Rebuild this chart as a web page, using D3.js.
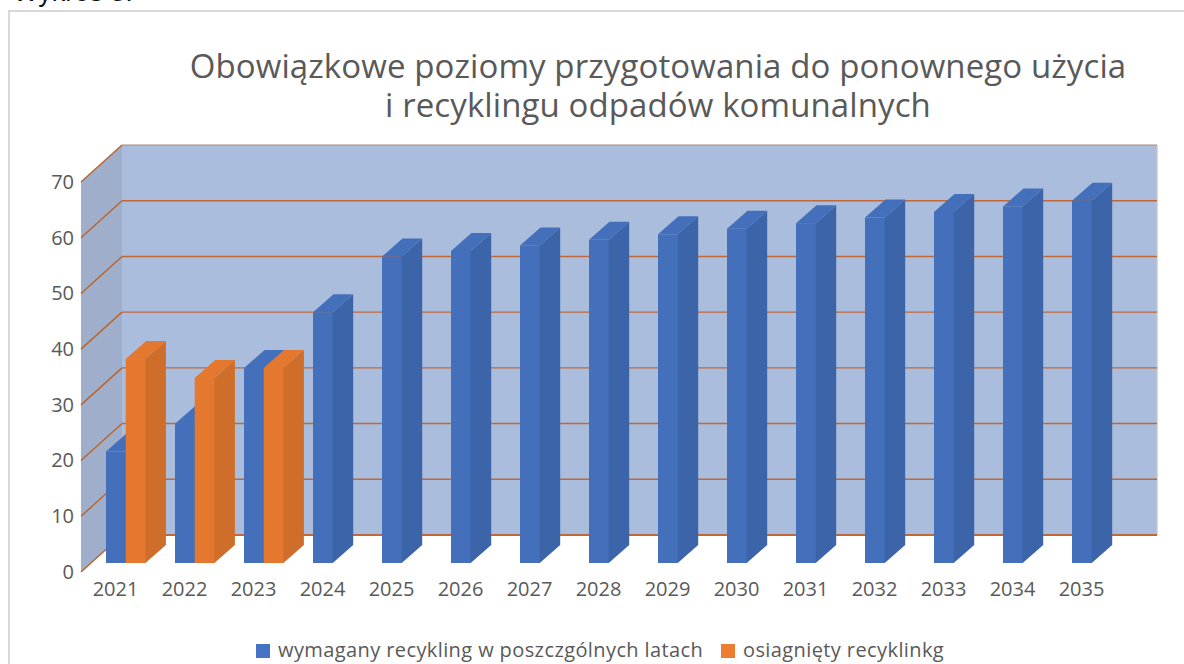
<!DOCTYPE html>
<html>
<head>
<meta charset="utf-8">
<script src="https://cdn.jsdelivr.net/npm/d3@7"></script>
<style>
    body { margin: 0; background: #fff; }
    svg { display: block; }
    text { font-family: "Open Sans", sans-serif; fill: #595959; }
</style>
</head>
<body>
<div id="chart"></div>
<script>
const years = ["2021","2022","2023","2024","2025","2026","2027","2028","2029","2030","2031","2032","2033","2034","2035"];
const required = [20,25,35,45,55,56,57,58,59,60,61,62,63,64,65];
const achieved = [36.6,33.2,35];
const seriesNames = ["wymagany recykling w poszczgólnych latach", "osiagnięty recyklinkg"];
const titleLines = ["Obowiązkowe poziomy przygotowania do ponownego użycia", "i recyklingu odpadów komunalnych"];
const yTicks = [0,10,20,30,40,50,60,70];

const width = 1184, height = 664;
const svg = d3.select("#chart").append("svg")
    .attr("width", width)
    .attr("height", height);

// outer chart frame, runs off the right and bottom of the picture
svg.append("rect")
    .attr("x", 9).attr("y", 11)
    .attr("width", 1200).attr("height", 670)
    .attr("fill", "#fff")
    .attr("stroke", "#d9d9d9")
    .attr("stroke-width", 2);

// caption above the frame, cut off by the top of the picture as in the original
svg.append("text")
    .attr("x", 13).attr("y", 1)
    .style("font-family", "Liberation Sans")
    .style("font-size", "27px")
    .style("fill", "#111")
    .text("Wykres 3.");

svg.selectAll(".title")
    .data(titleLines)
    .enter().append("text")
    .attr("class", "title")
    .attr("x", 658)
    .attr("y", (d, i) => 78 + i * 39)
    .attr("text-anchor", "middle")
    .style("font-size", "33px")
    .style("letter-spacing", "0.1px")
    .text(d => d);

// front plane of the 3d box
const y = d3.scaleLinear().domain([0, 70]).range([572, 182]);
const x = d3.scaleBand().domain(years).range([81, 81 + 69 * years.length]);
const xSeries = d3.scaleBand().domain(seriesNames).range([25, 64.4]);

const wallDx = 41, wallDy = -37;
const barDx = 20.5, barDy = -18;
const barBase = y(0) - 9;
const backRight = 1157;
const unit = y(0) - y(1);

// walls
const x0 = x.range()[0];
svg.append("rect")
    .attr("x", x0 + wallDx)
    .attr("y", y(70) + wallDy)
    .attr("width", backRight - x0 - wallDx)
    .attr("height", y(0) - y(70))
    .attr("fill", "#abbddd");
svg.append("path")
    .attr("d", d3.line()([
        [x0, y(70)], [x0 + wallDx, y(70) + wallDy],
        [x0 + wallDx, y(0) + wallDy], [x0, y(0)]
    ]) + "Z")
    .attr("fill", "#9fafcb");
svg.append("line")
    .attr("x1", backRight).attr("x2", backRight)
    .attr("y1", y(70) + wallDy).attr("y2", y(0) + wallDy)
    .attr("stroke", "#c4c9d2")
    .attr("stroke-width", 1.5);

// gridlines, the top one is greyer on the back wall
svg.selectAll(".grid-back")
    .data(yTicks)
    .enter().append("line")
    .attr("class", "grid-back")
    .attr("x1", x0 + wallDx).attr("x2", backRight)
    .attr("y1", d => y(d) + wallDy).attr("y2", d => y(d) + wallDy)
    .attr("stroke", d => d === 70 ? "#a9897f" : "#c0683a")
    .attr("stroke-width", d => d === 0 ? 1.8 : d === 70 ? 1 : 1.4);
svg.selectAll(".grid-side")
    .data(yTicks)
    .enter().append("line")
    .attr("class", "grid-side")
    .attr("x1", x0).attr("x2", x0 + wallDx)
    .attr("y1", d => y(d)).attr("y2", d => y(d) + wallDy)
    .attr("stroke", "#bd6228")
    .attr("stroke-width", 1.4);

// y axis labels
svg.append("g")
    .attr("transform", `translate(${x0 - 4},0)`)
    .call(d3.axisLeft(y).tickValues(yTicks).tickSize(0).tickPadding(3))
    .call(g => g.select(".domain").remove())
    .call(g => g.selectAll("text").style("font-size", "20px"));

// x axis labels
svg.append("g")
    .attr("transform", "translate(0,579)")
    .call(d3.axisBottom(x).tickSize(0).tickPadding(3))
    .call(g => g.select(".domain").remove())
    .call(g => g.selectAll("text").style("font-size", "20px"));

// one 3d bar: side, top and front faces
function drawBar(g, year, name, value, front, side, top) {
    const bx = x(year) + xSeries(name);
    const bw = xSeries.bandwidth();
    const yTop = barBase - value * unit;
    // side starts 1px under the front face so no gridline shows through the seam
    g.append("path")
        .attr("d", d3.line()([
            [bx + bw - 1, yTop], [bx + bw, yTop], [bx + bw + barDx, yTop + barDy],
            [bx + bw + barDx, barBase + barDy], [bx + bw, barBase], [bx + bw - 1, barBase]
        ]) + "Z")
        .attr("fill", side);
    g.append("path")
        .attr("d", d3.line()([
            [bx, yTop], [bx + barDx, yTop + barDy],
            [bx + bw + barDx, yTop + barDy], [bx + bw, yTop]
        ]) + "Z")
        .attr("fill", top);
    g.append("rect")
        .attr("x", bx).attr("y", yTop)
        .attr("width", bw).attr("height", value * unit)
        .attr("fill", front);
}

const bars = svg.append("g").attr("class", "bars");
years.forEach((year, i) => {
    drawBar(bars, year, seriesNames[0], required[i], "#4470bb", "#3b64a9", "#4470bb");
    if (achieved[i] !== undefined)
        drawBar(bars, year, seriesNames[1], achieved[i], "#e3782e", "#cf6d2a", "#e3782e");
});

// legend
const legend = svg.append("g").attr("class", "legend");
legend.selectAll("rect")
    .data([["#4472c4", 256], ["#ed7d31", 721]])
    .enter().append("rect")
    .attr("x", d => d[1])
    .attr("y", 644)
    .attr("width", 14).attr("height", 14)
    .attr("fill", d => d[0]);
legend.selectAll("text")
    .data([[seriesNames[0], 278], [seriesNames[1], 743]])
    .enter().append("text")
    .attr("x", d => d[1])
    .attr("y", 657)
    .style("font-size", "20px")
    .style("letter-spacing", "0.4px")
    .text(d => d[0]);
</script>
</body>
</html>
